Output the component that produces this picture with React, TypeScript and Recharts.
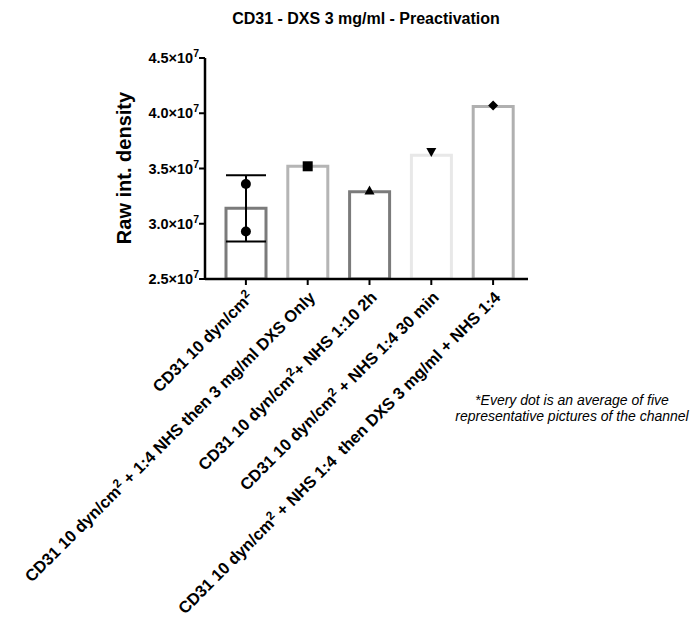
import React from 'react';
import { ComposedChart, Bar, Scatter, XAxis, YAxis, Cell, ErrorBar } from 'recharts';

document.body.style.margin = '0';

const FONT = '"Liberation Sans", Arial, Helvetica, sans-serif';

// group labels, split as [before superscript, superscript, after]
const categories: Array<[string, string, string]> = [
  ['CD31 10 dyn/cm', '2', ''],
  ['CD31 10 dyn/cm', '2', ' + 1:4 NHS then 3 mg/ml DXS Only'],
  ['CD31 10 dyn/cm', '2', '+ NHS 1:10 2h'],
  ['CD31 10 dyn/cm', '2', ' + NHS 1:4 30 min'],
  ['CD31 10 dyn/cm', '2', ' + NHS 1:4\u00a0 then DXS 3 mg/ml + NHS 1:4'],
];
const barValues = [31.4e6, 35.2e6, 32.9e6, 36.2e6, 40.6e6];
const dotA = [33.6e6, 35.2e6, 33.0e6, 36.5e6, 40.7e6];
const dotB = [29.3e6, null, null, null, null];
const errValues = [3.0e6, null, null, null, null];
const barColors = ['#7b7b7b', '#b5b5b5', '#7b7b7b', '#e8e8e8', '#b0b0b0'];
const markers = ['circle', 'square', 'triangle', 'triangleDown', 'diamond'];
const yTicks = [25e6, 30e6, 35e6, 40e6, 45e6];

const data = categories.map((c, i) => ({
  name: String(i),
  value: barValues[i],
  dotA: dotA[i],
  dotB: dotB[i],
  err: errValues[i],
  marker: markers[i],
}));

const Marker = (props: any) => {
  const { cx, cy, payload } = props;
  if (cx == null || cy == null) return null;
  const m = payload?.marker;
  if (m === 'square') return <rect x={cx - 5} y={cy - 5} width={10} height={10} fill="#000" />;
  if (m === 'triangle')
    return <polygon points={`${cx},${cy - 5} ${cx + 5},${cy + 4} ${cx - 5},${cy + 4}`} fill="#000" />;
  if (m === 'triangleDown')
    return <polygon points={`${cx - 5},${cy - 4} ${cx + 5},${cy - 4} ${cx},${cy + 5}`} fill="#000" />;
  if (m === 'diamond')
    return <polygon points={`${cx},${cy - 5} ${cx + 5},${cy} ${cx},${cy + 5} ${cx - 5},${cy}`} fill="#000" />;
  return <circle cx={cx} cy={cy} r={5} fill="#000" />;
};

const YTick = ({ x, y, payload }: any) => (
  <text x={x} y={y} dy={5} textAnchor="end" fontSize={14.5} fontWeight="bold" fontFamily={FONT} fill="#000">
    {(payload.value / 1e7).toFixed(1)}×10
    <tspan dy={-6} fontSize={10.5}>7</tspan>
  </text>
);

const XTick = ({ x, y, payload }: any) => {
  const c = categories[Number(payload.value)];
  return (
    <g transform={`translate(${x},${y + 3}) rotate(-45)`}>
      <text x={0} y={0} dy={12} textAnchor="end" fontSize={16.5} fontWeight="bold" fontFamily={FONT} fill="#000">
        {c[0]}
        <tspan dy={-6} fontSize={12}>{c[1]}</tspan>
        <tspan dy={6}>{c[2]}</tspan>
      </text>
    </g>
  );
};

export default function App() {
  return (
    <div style={{ position: 'relative', width: 697, height: 619, background: '#fff', fontFamily: FONT }}>
      <div
        style={{
          position: 'absolute',
          left: 166,
          width: 400,
          top: 10,
          textAlign: 'center',
          fontSize: 16,
          fontWeight: 'bold',
        }}
      >
        CD31 - DXS 3 mg/ml - Preactivation
      </div>
      <div
        style={{
          position: 'absolute',
          left: 124,
          top: 168,
          transform: 'translate(-50%, -50%) rotate(-90deg)',
          whiteSpace: 'nowrap',
          fontSize: 20,
          fontWeight: 'bold',
        }}
      >
        Raw int. density
      </div>
      <div
        style={{
          position: 'absolute',
          left: 422,
          width: 300,
          top: 393,
          textAlign: 'center',
          fontSize: 14,
          fontStyle: 'italic',
          lineHeight: '15.5px',
        }}
      >
        *Every dot is an average of five
        <br />
        representative pictures of the channel
      </div>
      <div style={{ position: 'absolute', left: 0, top: 0 }}>
        <ComposedChart
          width={697}
          height={619}
          data={data}
          margin={{ top: 58, right: 169, bottom: 310, left: 125 }}
        >
          <XAxis
            dataKey="name"
            tick={<XTick />}
            interval={0}
            axisLine={{ stroke: '#000', strokeWidth: 2.5 }}
            tickLine={{ stroke: '#000', strokeWidth: 2 }}
            tickSize={6}
            padding={{ left: 10, right: 4 }}
          />
          <YAxis
            width={80}
            domain={[25e6, 45e6]}
            ticks={yTicks}
            allowDataOverflow
            tick={<YTick />}
            axisLine={{ stroke: '#000', strokeWidth: 2.5 }}
            tickLine={{ stroke: '#000', strokeWidth: 2 }}
            tickSize={6}
            tickMargin={0}
          />
          <Bar dataKey="value" barSize={40} fill="#fff" strokeWidth={3} isAnimationActive={false}>
            {data.map((d, i) => (
              <Cell key={d.name} stroke={barColors[i]} />
            ))}
            <ErrorBar dataKey="err" width={20} stroke="#000" strokeWidth={2} direction="y" />
          </Bar>
          <Scatter dataKey="dotA" shape={<Marker />} isAnimationActive={false} />
          <Scatter dataKey="dotB" shape={<Marker />} isAnimationActive={false} />
        </ComposedChart>
      </div>
    </div>
  );
}
